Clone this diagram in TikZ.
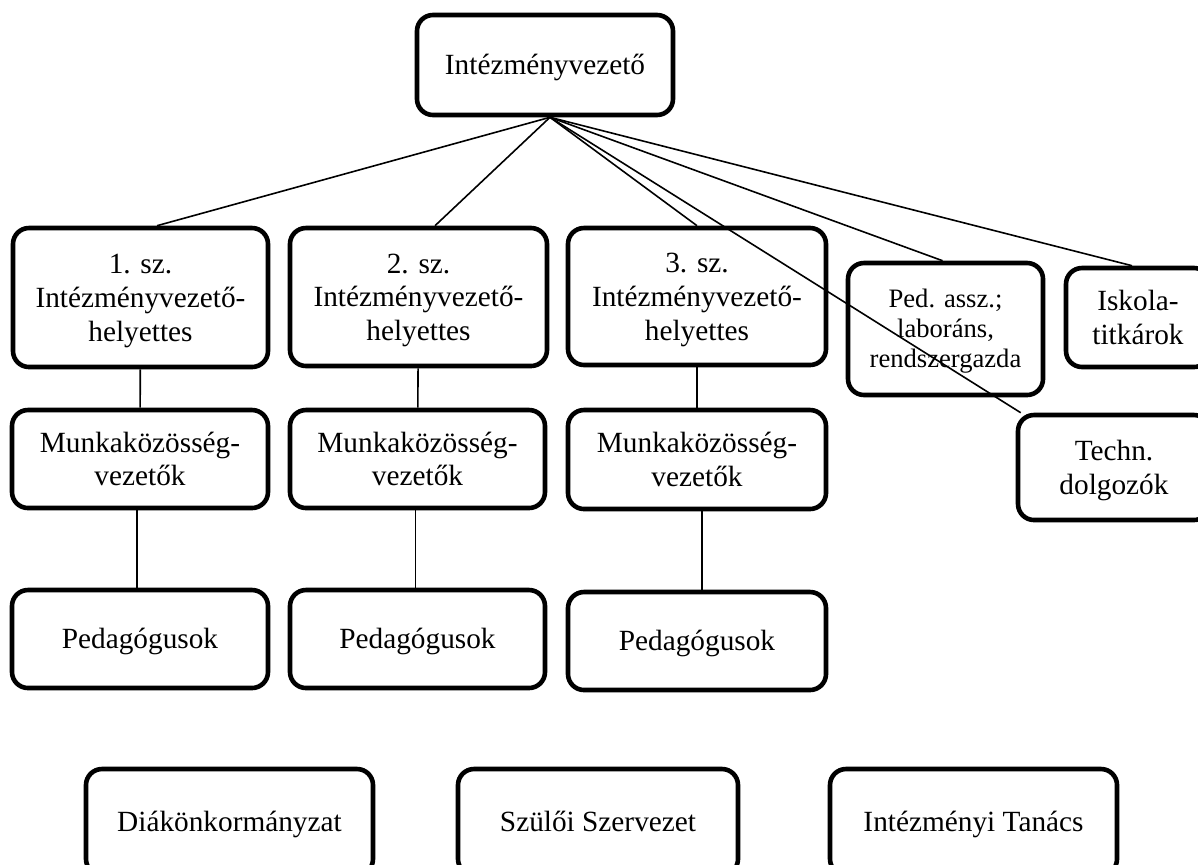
\documentclass[tikz,border=0pt]{standalone}
\usepackage{fontspec}
\setmainfont{Liberation Serif}
\newcommand{\ls}{\rule[-0.216em]{0pt}{1.107em}}
\begin{document}
\begin{tikzpicture}[x=0.5pt, y=-0.5pt,
  unit/.style={shape=rectangle, draw=black, line width=2.3pt, rounded corners=8pt, align=center, inner sep=0pt, font=\fontsize{14.65}{16.8}\selectfont},
  link/.style={-, line width=0.8pt, draw=black}]
\useasboundingbox (0,0) rectangle (1198,864);
\clip (0,0) rectangle (1198,864);
\node[unit, minimum width=128pt, minimum height=50pt] (boss) at (545,65) {\ls Intézményvezető};
\node[unit, minimum width=127.5pt, minimum height=69.5pt] (h1) at (140.5,297.5) {\ls 1. sz.\\Intézményvezető-\\\ls helyettes};
\node[unit, minimum width=128.5pt, minimum height=69pt] (h2) at (418.5,297) {\ls 2. sz.\\Intézményvezető-\\\ls helyettes};
\node[unit, minimum width=129pt, minimum height=68.5pt] (h3) at (697,296.5) {\ls 3. sz.\\Intézményvezető-\\\ls helyettes};
\node[unit, minimum width=97.5pt, minimum height=66pt, font=\fontsize{13.3}{15}\selectfont] (ped) at (945.5,329) {\ls Ped. assz.;\\laboráns,\\\ls rendszergazda};
\node[unit, minimum width=72pt, minimum height=49.5pt] (isk) at (1138,317.5) {\ls Iskola-\\\ls titkárok};
\node[unit, minimum width=96pt, minimum height=52.5pt] (techn) at (1114,467.5) {\ls Techn.\\\ls dolgozók};
\node[unit, minimum width=128pt, minimum height=49pt] (mk1) at (140,459) {\ls Munkaközösség-\\\ls vezetők};
\node[unit, minimum width=127.5pt, minimum height=49pt] (mk2) at (417.5,459) {\ls Munkaközösség-\\\ls vezetők};
\node[unit, minimum width=129pt, minimum height=49.5pt] (mk3) at (697,459.5) {\ls Munkaközösség-\\\ls vezetők};
\node[unit, minimum width=128pt, minimum height=49pt] (pg1) at (140,639) {\ls Pedagógusok};
\node[unit, minimum width=127.5pt, minimum height=49pt] (pg2) at (417.5,639) {\ls Pedagógusok};
\node[unit, minimum width=129pt, minimum height=49pt] (pg3) at (697,641) {\ls Pedagógusok};
\node[unit, minimum width=143.5pt, minimum height=53pt] (dok) at (229.5,822) {\ls Diákönkormányzat};
\node[unit, minimum width=140pt, minimum height=53pt] (szsz) at (598,822) {\ls Szülői Szervezet};
\node[unit, minimum width=143.5pt, minimum height=53pt] (itan) at (973.5,822) {\ls Intézményi Tanács};
\path [link] ([xshift=2.5pt]boss.south) edge ([xshift=8.25pt]h1.north);
\path [link] ([xshift=2.5pt]boss.south) edge ([xshift=8.25pt]h2.north);
\path [link] ([xshift=2.5pt]boss.south) edge (h3.north);
\path [link] ([xshift=2.5pt]boss.south) edge ([xshift=-1.5pt]ped.north);
\path [link] ([xshift=2.5pt]boss.south) edge ([xshift=-3pt]isk.north);
\path [link] ([xshift=2.5pt]boss.south) edge ([xshift=2.5pt]techn.north west);
\path [link] (h1) edge (mk1);
\path [link] (h2) edge (mk2);
\path [link] (h3) edge (mk3);
\path [link] ([xshift=-1.5pt]mk1.south) edge ([xshift=-1.5pt]pg1.north);
\path [link] ([xshift=-1pt]mk2.south) edge ([xshift=-1pt]pg2.north);
\path [link] ([xshift=2.5pt]mk3.south) edge ([xshift=2.5pt]pg3.north);
\end{tikzpicture}
\end{document}
